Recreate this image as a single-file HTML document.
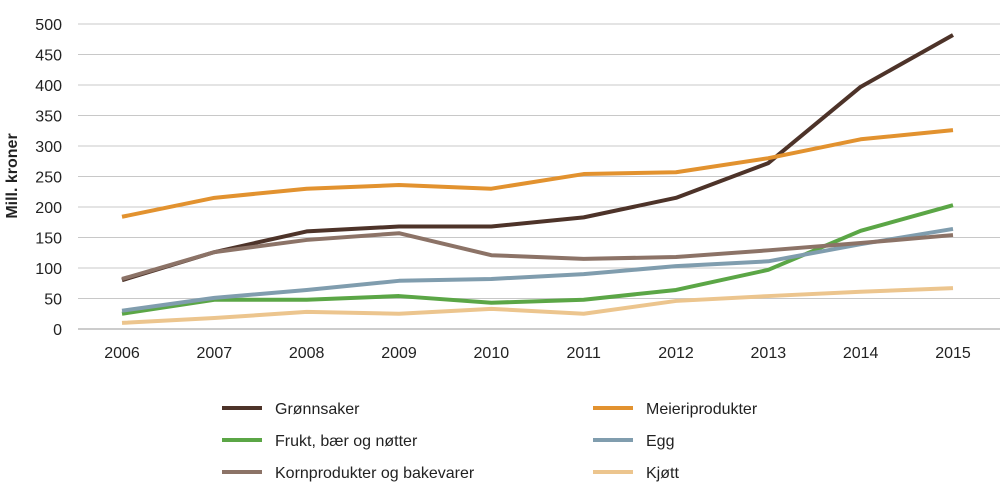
<!DOCTYPE html>
<html><head><meta charset="utf-8"><style>
body{margin:0;background:#fff;font-family:"Liberation Sans",sans-serif}
svg text{font-family:"Liberation Sans",sans-serif;fill:#222}
</style></head><body>
<svg id="chart" width="1000" height="498"></svg>
<script>
const years=[2006,2007,2008,2009,2010,2011,2012,2013,2014,2015];
const yTicks=[0,50,100,150,200,250,300,350,400,450,500];
const gronnsaker=[80,126,160,168,168,183,215,272,397,482];
const meieri=[184,215,230,236,230,254,257,280,311,326];
const frukt=[25,48,48,54,43,48,64,97,161,203];
const egg=[30,51,64,79,82,90,103,111,139,164];
const korn=[82,126,146,157,121,115,118,129,141,154];
const kjott=[10,18,28,25,33,25,46,54,61,67];
const seriesNames=["Grønnsaker","Meieriprodukter","Frukt, bær og nøtter","Egg","Kornprodukter og bakevarer","Kjøtt"];
const seriesData=[gronnsaker,meieri,frukt,egg,korn,kjott];
const colors=["#4d3329","#e2922f","#5ba646","#809dae","#8c7367","#ecc58e"];
const ns="http://www.w3.org/2000/svg";
const svg=document.getElementById('chart');
const x=i=>122+i*(953-122)/(years.length-1);
const y=v=>329-v*0.61;
function mk(t,a,p){const e=document.createElementNS(ns,t);for(const k in a)e.setAttribute(k,a[k]);(p||svg).appendChild(e);return e;}
yTicks.forEach(v=>{
 const g=mk('line',{x1:78,x2:1000,y1:y(v),y2:y(v),stroke:v===0?'#999':'#c8c8c8','stroke-width':1});
 
 
 const t=mk('text',{x:62,y:y(v)+6,'text-anchor':'end','font-size':16});
 t.textContent=v;
 
 
});
years.forEach((yr,i)=>{
 const t=mk('text',{x:x(i),y:358,'text-anchor':'middle','font-size':16});
 t.textContent=yr;
 
 
});
const yt=mk('text',{x:0,y:0,'font-size':16,'font-weight':'bold','text-anchor':'middle',transform:'translate(17,176) rotate(-90)'});
yt.textContent='Mill. kroner';


seriesData.forEach((d,s)=>{
 const pts=d.map((v,i)=>x(i)+','+y(v)).join(' ');
 const p=mk('polyline',{points:pts,fill:'none',stroke:colors[s],'stroke-width':4,'stroke-linejoin':'round'});
 
 
 const col=s%2,row=Math.floor(s/2);
 const lx=col?593:222,ly=408+row*32;
 const l=mk('line',{x1:lx,x2:lx+40,y1:ly,y2:ly,stroke:colors[s],'stroke-width':4});
 
 
 const t=mk('text',{x:lx+53,y:ly+6,'font-size':16});
 t.textContent=seriesNames[s];
 
 
});
</script>
</body></html>
